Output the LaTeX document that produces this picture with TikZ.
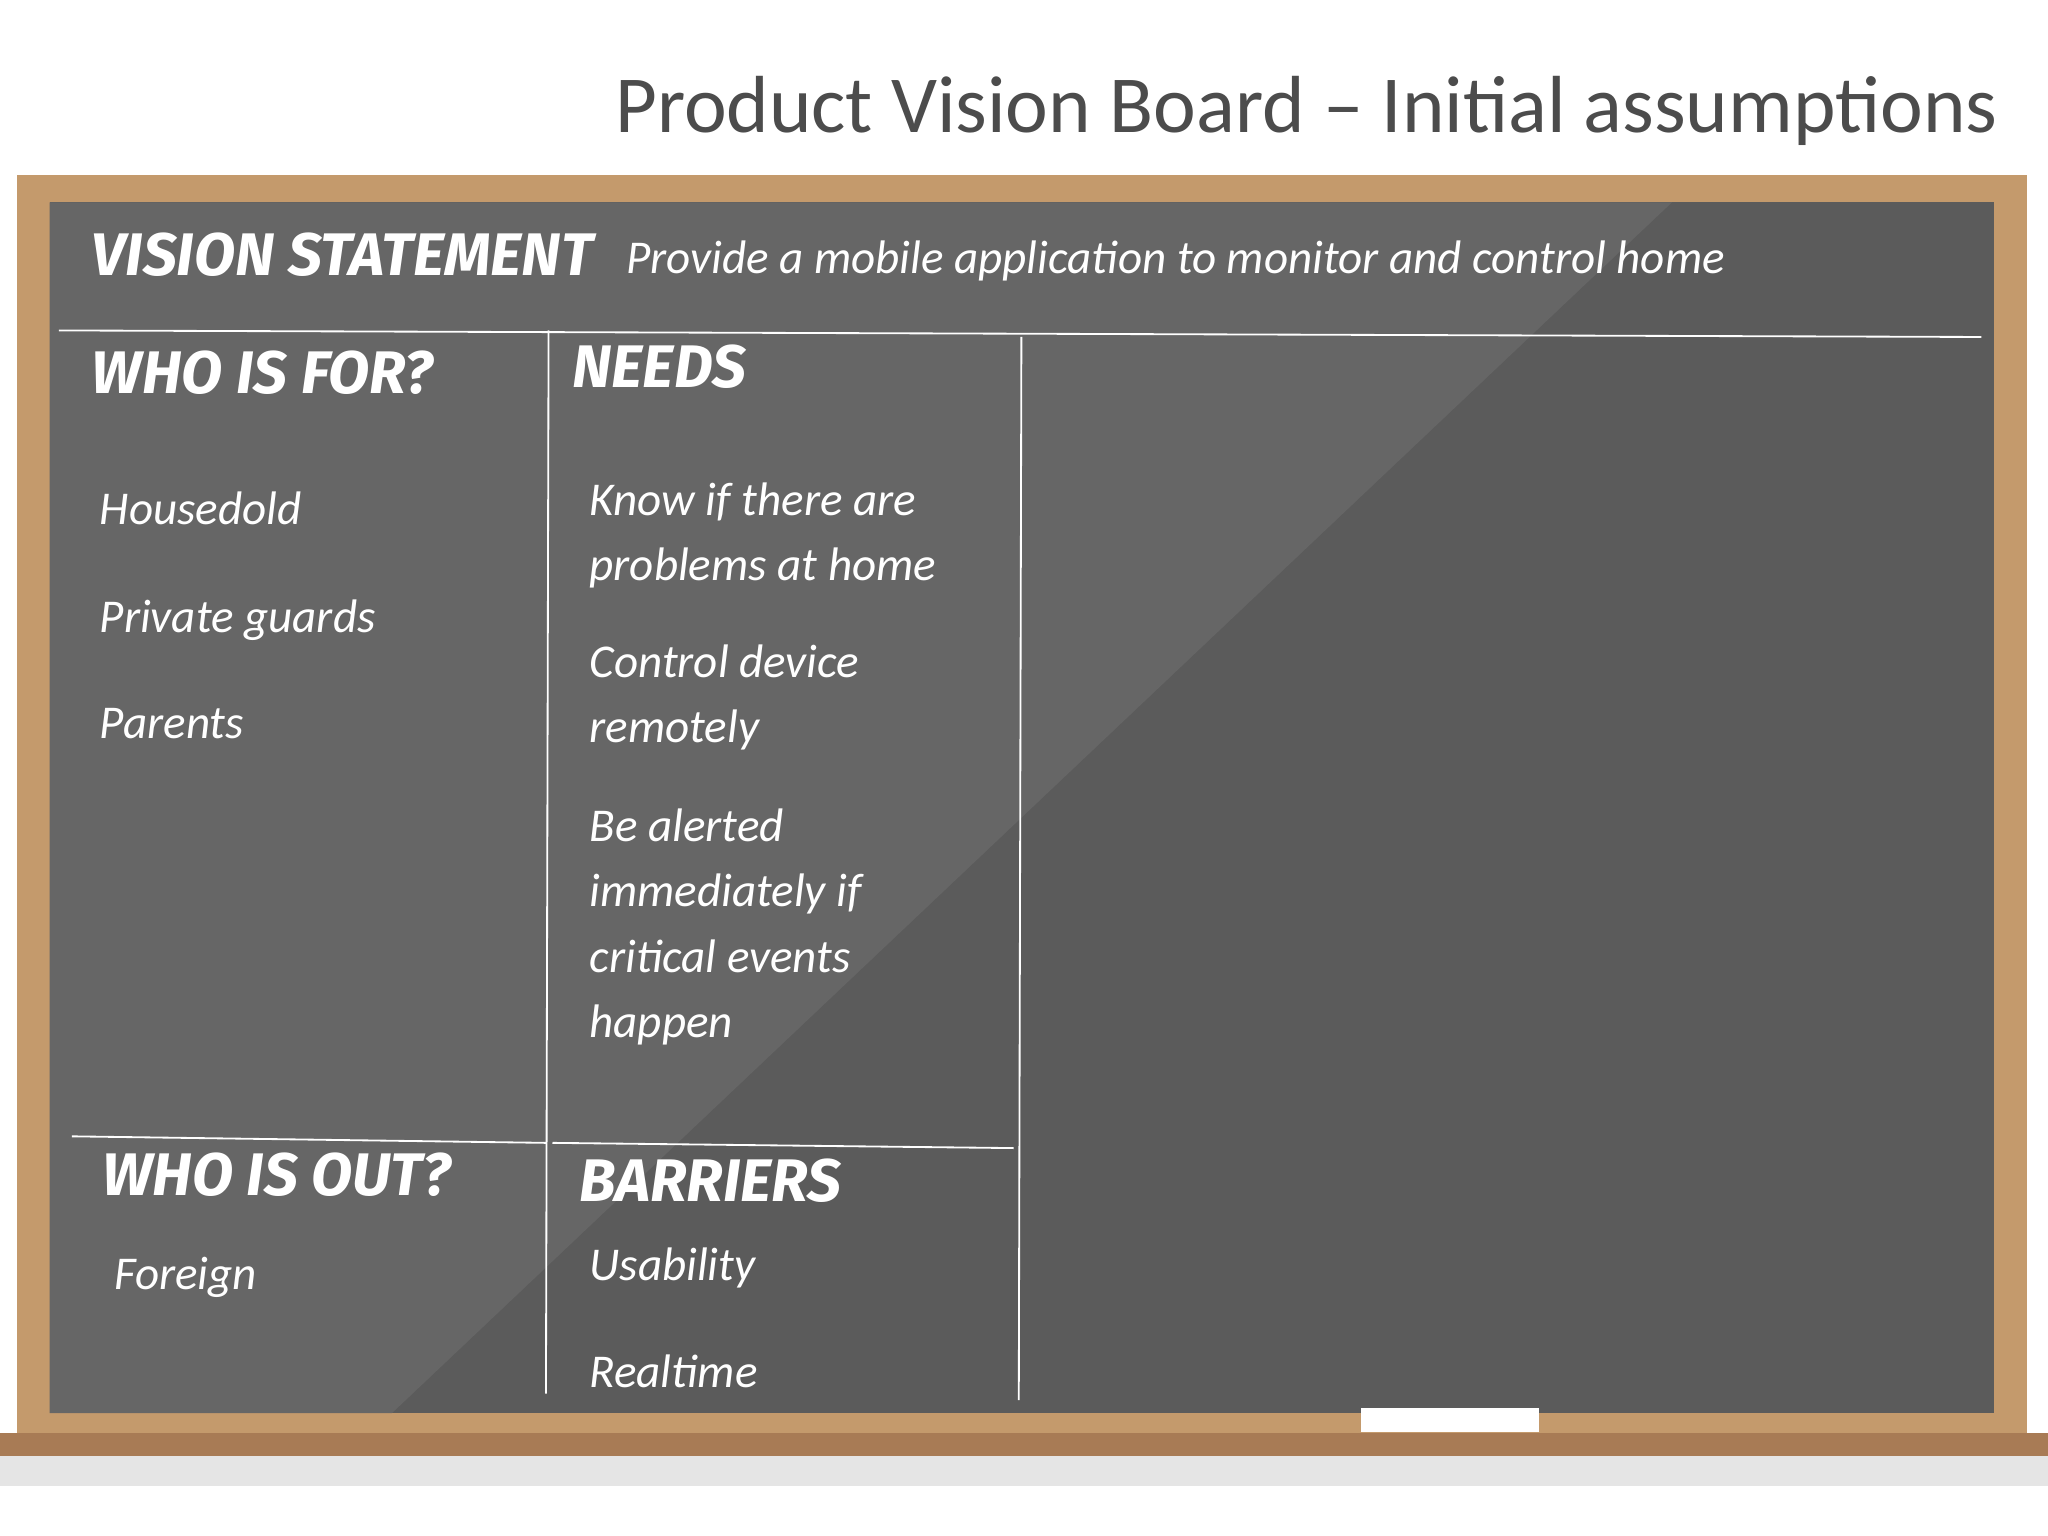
\documentclass[tikz,border=0pt]{standalone}
\usepackage{fontspec}
\setmainfont{Carlito}
\newfontfamily\hdfont{Fira Sans}
\definecolor{wood}{RGB}{196,154,108}
\definecolor{shelf}{RGB}{168,123,85}
\definecolor{boardd}{RGB}{91,91,91}
\definecolor{boardl}{RGB}{102,102,102}
\begin{document}
\begin{tikzpicture}[x=0.5pt,y=-0.5pt,
  body/.style={anchor=north west,font=\fontsize{18}{25}\selectfont\itshape,text=white,align=left,inner sep=0},
  head/.style={anchor=west,font=\hdfont\fontsize{23}{26}\selectfont\bfseries\itshape,text=white,inner sep=0},
  chalk/.style={draw=white,line width=0.7pt}]
\useasboundingbox (0,0) rectangle (1568,1176);
\fill[white] (0,0) rectangle (1568,1176);
\node[anchor=east,font=\fontsize{31}{36}\selectfont,text=black!70,inner sep=0] (title) at (1530,85) {Product Vision Board – Initial assumptions};
\fill[black!10] (0,1115) rectangle (1568,1138);
\fill[wood] (13,134) rectangle (1552,1097);
\fill[boardd] (38,155) rectangle (1527,1082);
\fill[boardl] (38,155) -- (1280,155) -- (300,1082) -- (38,1082) -- cycle;
\fill[shelf] (0,1097) rectangle (1568,1115);
\fill[white] (1042,1078) rectangle (1178,1096);
\draw[chalk] (45,253) -- (1517,258);
\draw[chalk] (420,253) -- (418,1067);
\draw[chalk] (782,258) -- (780,1072);
\draw[chalk] (55,870) -- (418,875);
\draw[chalk] (423,875) -- (776,879);
\node[head] (hv) at (70,195) {VISION STATEMENT};
\node[anchor=west,font=\fontsize{18}{22}\selectfont\itshape,text=white,inner sep=0] (vs) at (479,200) {Provide a mobile application to monitor and control home};
\node[head] (hw) at (70,285) {WHO IS FOR?};
\node[head] (hn) at (438,281) {NEEDS};
\node[head] (ho) at (78,899) {WHO IS OUT?};
\node[head] (hb) at (443,904) {BARRIERS};
\node[body] (w1) at (76,376) {Housedold};
\node[body] (w2) at (76,459) {Private guards};
\node[body] (w3) at (76,542) {Parents};
\node[body] (n1) at (451,369) {Know if there are\\problems at home};
\node[body] (n2) at (451,493) {Control device\\remotely};
\node[body] (n3) at (451,619) {Be alerted\\immediately if\\critical events\\happen};
\node[body] (o1) at (87,962) {Foreign};
\node[body] (b1) at (451,955) {Usability};
\node[body] (b2) at (451,1037) {Realtime};
\end{tikzpicture}
\end{document}
